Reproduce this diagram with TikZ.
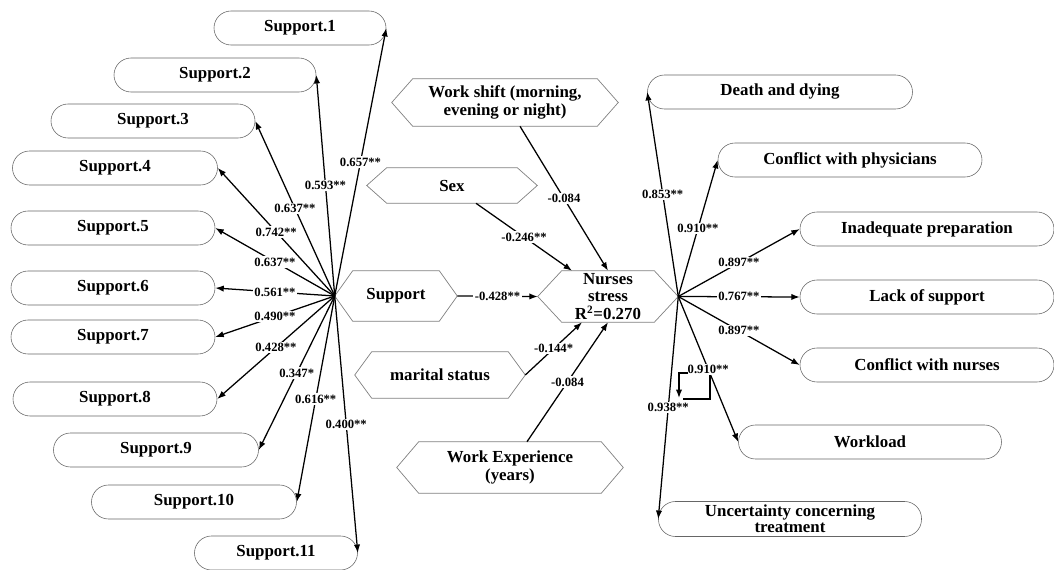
\documentclass[tikz,border=0pt]{standalone}
\usepackage{fontspec}
\setmainfont{Liberation Serif}
\usetikzlibrary{arrows.meta}
\def\pu{0.025cm}
% hexagon outline round a plain node, #2 = inset of the pointed ends
\newcommand{\hexbox}[2]{%
  \draw[hexline] (#1.west) -- ([shift={(#2,0)}]#1.north west) -- ([shift={(-#2,0)}]#1.north east)
    -- (#1.east) -- ([shift={(-#2,0)}]#1.south east) -- ([shift={(#2,0)}]#1.south west) -- cycle;}

\begin{document}
\begin{tikzpicture}[
  x=0.025cm, y=-0.025cm,
  every node/.append style={font=\fontsize{12}{12.5}\selectfont\bfseries},
  stadium/.style={draw=black!60, rounded corners=17*\pu, minimum height=34*\pu, inner sep=0pt, align=center},
  hexnode/.style={inner sep=0pt, align=center},
  hexline/.style={draw=black!50, line width=0.5pt},
  arr/.style={-{Latex[length=6pt,width=4.5pt]}, line width=0.9pt},
  elab/.style={fill=white, inner sep=1pt, font=\fontsize{9}{9}\selectfont\bfseries},
]
\useasboundingbox (0,0) rectangle (1054,570);
% --- centre: support and nurses stress ---
\node[hexnode, minimum width=122*\pu, minimum height=50*\pu] (sup) at (396,296) {Support};
\node[hexnode, minimum width=140*\pu, minimum height=51*\pu] (ns) at (608,296.5) {Nurses\\stress\\R\textsuperscript{2}=0.270};
\hexbox{sup}{18}
\hexbox{ns}{24}
% --- other predictors ---
\node[hexnode, minimum width=226*\pu, minimum height=47*\pu] (ws) at (505,102.5) {Work shift (morning,\\evening or night)};
\node[hexnode, minimum width=170*\pu, minimum height=35*\pu] (sex) at (452,185.5) {Sex};
\node[hexnode, minimum width=170*\pu, minimum height=46*\pu] (mar) at (440,375) {marital status};
\node[hexnode, minimum width=226*\pu, minimum height=51*\pu] (wexp) at (510,467.5) {Work Experience\\(years)};
\hexbox{ws}{21}
\hexbox{sex}{20}
\hexbox{mar}{17}
\hexbox{wexp}{22}
\draw[arr] ([shift={(15,0)}]ws.south) -- node[elab] {-0.084} (ns.north);
\draw[arr] ([shift={(24,0)}]sex.south) -- node[elab] {-0.246**} ([shift={(-36,0)}]ns.north);
\draw[arr] (sup.east) -- node[elab] {-0.428**} (ns.west);
\draw[arr] (mar.east) -- node[elab] {-0.144*} ([shift={(-26,0)}]ns.south);
\draw[arr] ([shift={(17,0)}]wexp.north) -- node[elab] {-0.084} (ns.south);
% --- support items ---
\foreach \i/\x/\y/\w in {1/300/28/172, 2/215/75/202, 3/153/121/204, 4/115/168/205,
    5/113/228/204, 6/113/288/204, 7/113/337/204, 8/115/399/204,
    9/156/450/205, 10/194/502/205, 11/276/553/163} {
  \node[stadium, minimum width=\w*\pu] (s\i) at (\x,\y) {Support.\i};
}
\foreach \i/\v in {1/0.657**, 2/0.593**, 3/0.637**, 4/0.742**, 5/0.637**, 6/0.561**,
    7/0.490**, 8/0.428**, 9/0.347*, 10/0.616**, 11/0.400**} {
  \draw[arr] (sup.west) -- node[elab] {\v} (s\i.east);
}
% --- stress dimensions ---
\foreach \n/\x/\y/\w/\t in {dd/780/92/265/Death and dying, cp/850/160/264/Conflict with physicians,
    ip/927/229/254/Inadequate preparation, ls/927/297/254/Lack of support,
    cn/927/365/254/Conflict with nurses, wl/870/442/263/Workload} {
  \node[stadium, minimum width=\w*\pu] (\n) at (\x,\y) {\t};
}
\node[stadium, minimum width=263*\pu, minimum height=35*\pu, font=\fontsize{12}{11.5}\selectfont\bfseries] (uc) at (790,519) {Uncertainty concerning\\treatment};
\foreach \n/\v in {dd/0.853**, cp/0.910**, ip/0.897**, ls/0.767**, cn/0.897**, wl/0.910**, uc/0.938**} {
  \draw[arr] (ns.east) -- node[elab] {\v} (\n.west);
}
% small loop under the workload label
\coordinate (lpa) at (710,375);
\coordinate (lpb) at (683,399);
\coordinate (lpc) at (688,373);
\coordinate (lpd) at (679,398);
\draw[line width=0.9pt] (lpa) |- (lpb);
\draw[arr] (lpc) -| (lpd);
\end{tikzpicture}
\end{document}
